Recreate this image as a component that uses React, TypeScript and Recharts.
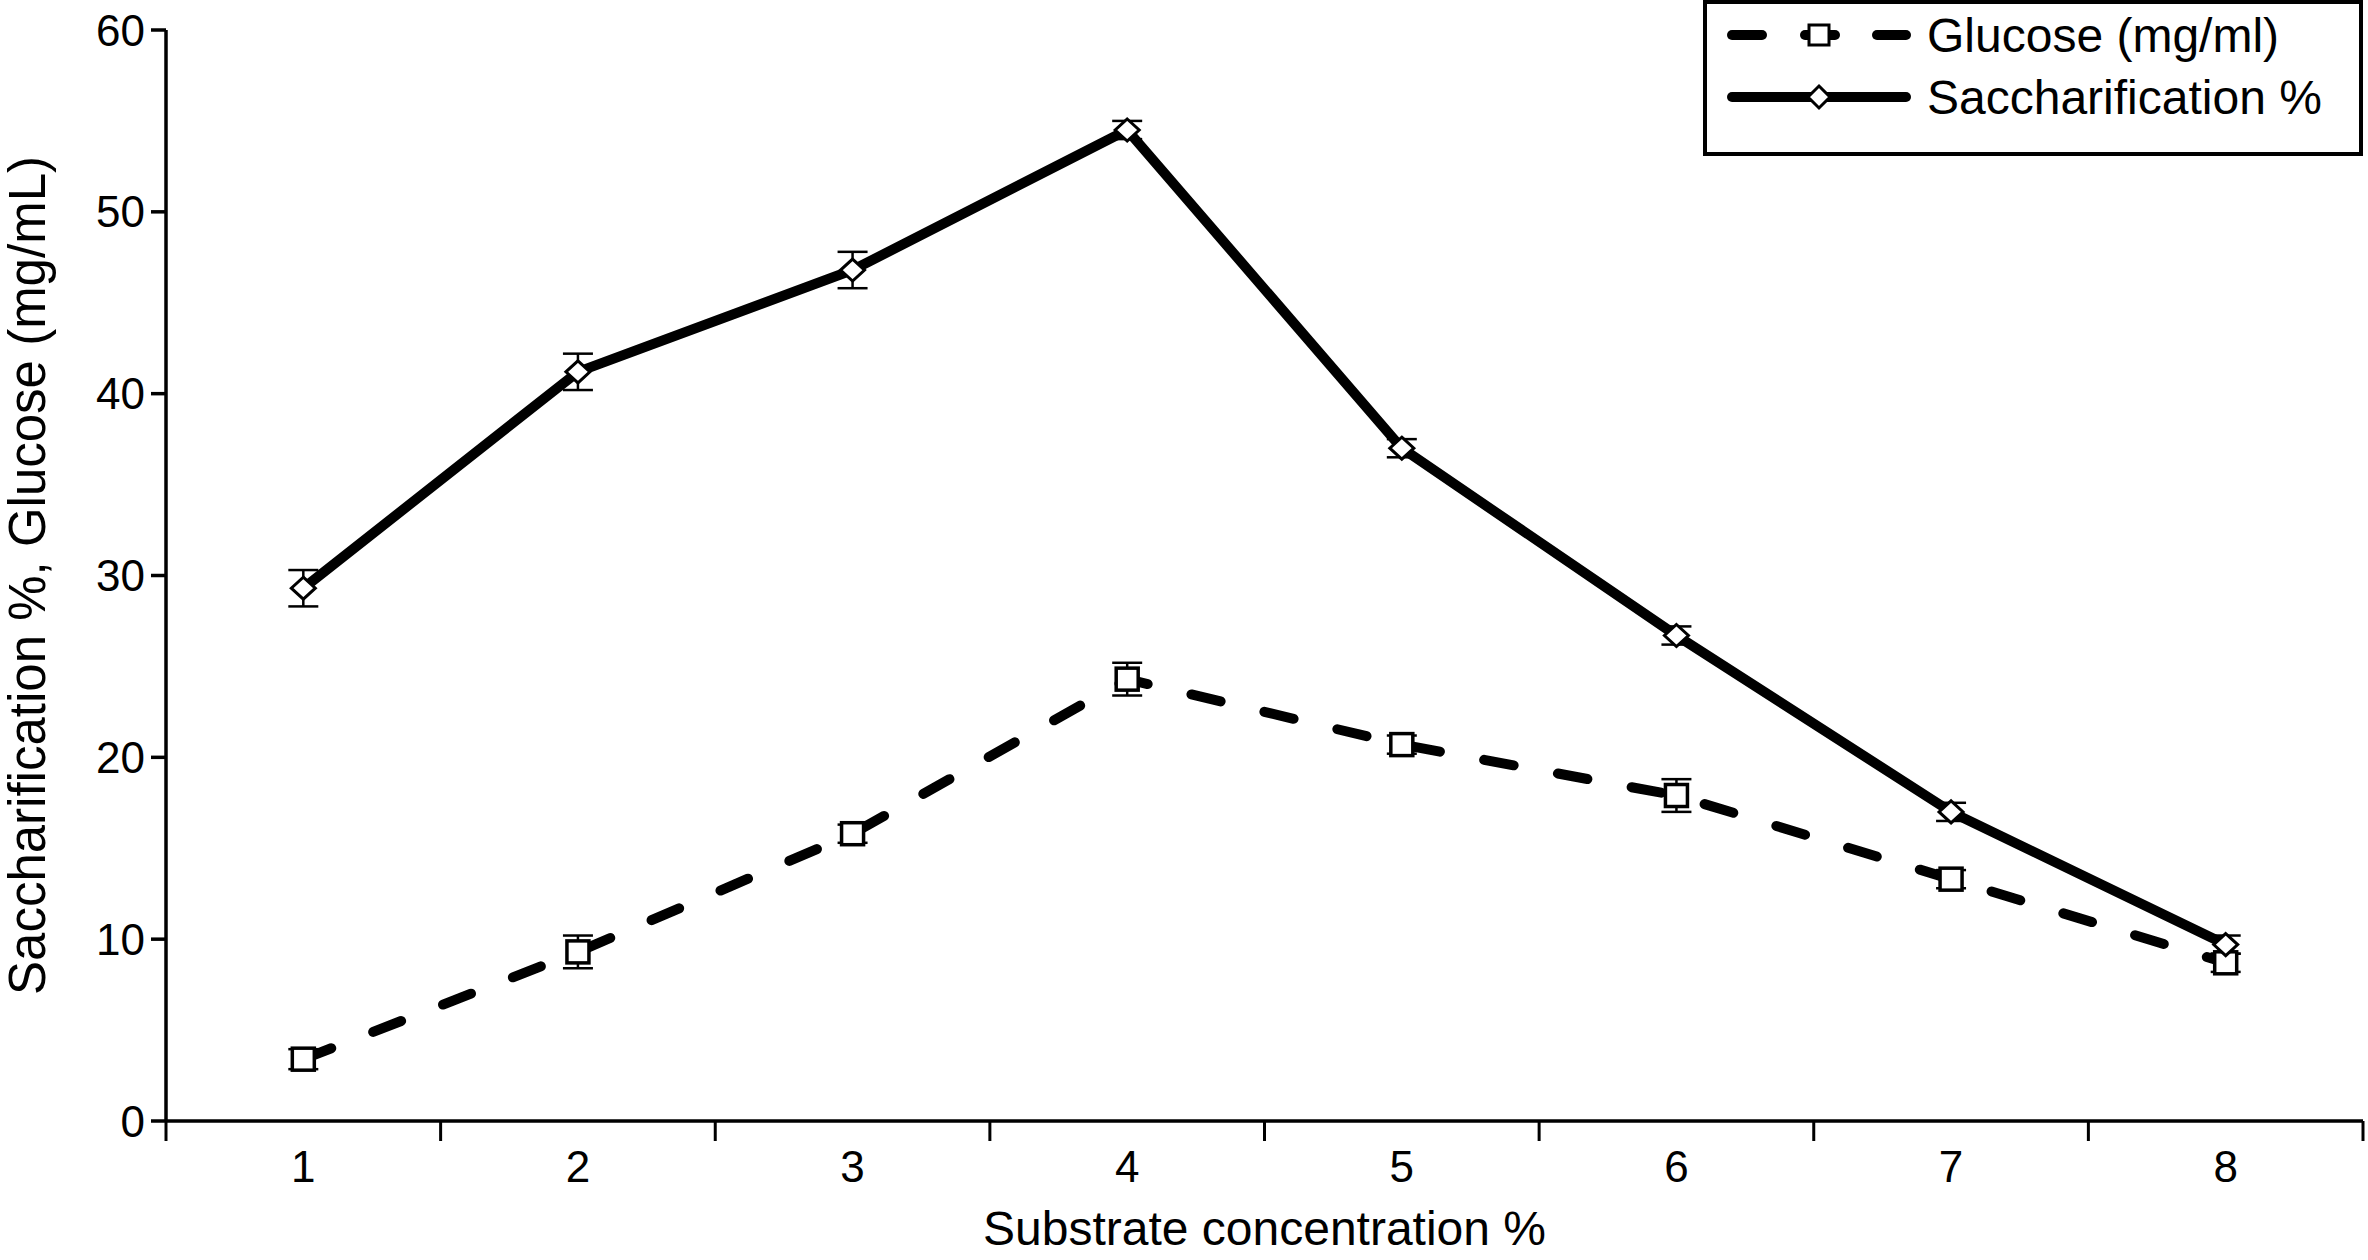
import React from 'react'
import { LineChart, Line, XAxis, YAxis, ErrorBar, Legend } from 'recharts'

const concentrations = [1, 2, 3, 4, 5, 6, 7, 8]
const glucose = [3.4, 9.3, 15.8, 24.3, 20.7, 17.9, 13.3, 8.7]
const glucoseErr = [0.55, 0.9, 0.5, 0.9, 0.5, 0.9, 0.5, 0.5]
const saccharification = [29.3, 41.2, 46.8, 54.5, 37.0, 26.7, 17.0, 9.7]
const saccharificationErr = [1.0, 1.0, 1.0, 0.5, 0.5, 0.5, 0.5, 0.5]
const yTicks = [0, 10, 20, 30, 40, 50, 60]
const xEdges = [0.5, 1.5, 2.5, 3.5, 4.5, 5.5, 6.5, 7.5, 8.5]

const data = concentrations.map((x, i) => ({
  x,
  glucose: glucose[i],
  glucoseErr: glucoseErr[i],
  sacc: saccharification[i],
  saccErr: saccharificationErr[i],
}))

const FONT = '"Liberation Sans", Arial, Helvetica, sans-serif'
const INK = '#000'

function SquareDot(props: any) {
  const { cx, cy, index } = props
  if (cx == null || cy == null) return <g key={`sq-${index}`} />
  return (
    <rect key={`sq-${index}`} x={cx - 11} y={cy - 11} width={22} height={22}
      fill="#fff" stroke={INK} strokeWidth={3.5} />
  )
}

function DiamondDot(props: any) {
  const { cx, cy, index } = props
  if (cx == null || cy == null) return <g key={`dm-${index}`} />
  const w = 12, h = 11
  return (
    <polygon key={`dm-${index}`}
      points={`${cx},${cy - h} ${cx + w},${cy} ${cx},${cy + h} ${cx - w},${cy}`}
      fill="#fff" stroke={INK} strokeWidth={3} />
  )
}

// boundary ticks at the half values, labels at the whole ones
function XTick(props: any) {
  const { x, y, payload } = props
  const v = payload.value
  if (!Number.isInteger(v)) {
    return <line x1={x} x2={x} y1={y} y2={y + 20} stroke={INK} strokeWidth={3} />
  }
  return (
    <text x={x} y={y + 61} textAnchor="middle" fontSize={44} fill={INK} fontFamily={FONT}>
      {v}
    </text>
  )
}

function LegendBox() {
  return (
    <svg width={660} height={156} style={{ display: 'block' }}>
      <rect x={2} y={2} width={656} height={152} fill="#fff" stroke={INK} strokeWidth={4} />
      {/* glucose */}
      <g stroke={INK} strokeWidth={10} strokeLinecap="round">
        <line x1={29} x2={59} y1={35} y2={35} />
        <line x1={102} x2={132} y1={35} y2={35} />
        <line x1={174} x2={203} y1={35} y2={35} />
      </g>
      <rect x={106} y={25} width={20} height={20} fill="#fff" stroke={INK} strokeWidth={3} />
      <text x={224} y={35} dy="0.36em" fontSize={48} fontFamily={FONT} fill={INK}>
        Glucose (mg/ml)
      </text>
      {/* saccharification */}
      <line x1={29} x2={203} y1={97} y2={97} stroke={INK} strokeWidth={10} strokeLinecap="round" />
      <polygon points="116,86 127,97 116,108 105,97" fill="#fff" stroke={INK} strokeWidth={3} />
      <text x={224} y={97} dy="0.36em" fontSize={48} fontFamily={FONT} fill={INK}>
        Saccharification %
      </text>
    </svg>
  )
}

export default function App() {
  return (
    <div style={{ position: 'absolute', left: 0, top: 0, width: 2368, height: 1260, background: '#fff', fontFamily: FONT }}>
      <LineChart width={2368} height={1260} data={data}
        margin={{ top: 30, right: 5, bottom: 0, left: 0 }}>
        <XAxis
          dataKey="x"
          type="number"
          domain={[0.5, 8.5]}
          ticks={[...xEdges, ...concentrations].sort((a, b) => a - b)}
          interval={0}
          height={139}
          tickSize={0}
          tickMargin={0}
          tickLine={false}
          tick={XTick}
          axisLine={{ stroke: INK, strokeWidth: 3.5 }}
          label={{
            value: 'Substrate concentration %',
            position: 'insideBottom',
            offset: 15,
            fontSize: 48,
            fill: INK,
            fontFamily: FONT,
          }}
        />
        <YAxis
          domain={[0, 60]}
          ticks={yTicks}
          width={166}
          tickSize={15}
          tickMargin={6}
          tickLine={{ stroke: INK, strokeWidth: 3.5 }}
          axisLine={{ stroke: INK, strokeWidth: 3.5 }}
          tick={{ fontSize: 44, fill: INK, fontFamily: FONT }}
          label={{
            value: 'Saccharification %, Glucose (mg/mL)',
            angle: -90,
            position: 'insideLeft',
            offset: 27,
            fontSize: 51,
            fill: INK,
            fontFamily: FONT,
            style: { textAnchor: 'middle' },
          }}
        />
        <Legend layout="vertical" align="center" verticalAlign="middle"
          content={LegendBox}
          wrapperStyle={{ top: 0, left: 1703, width: 660, height: 156 }} />
        <Line
          dataKey="glucose"
          name="Glucose (mg/ml)"
          stroke={INK}
          strokeWidth={10}
          strokeDasharray="30 45"
          strokeLinecap="round"
          dot={SquareDot}
          activeDot={false}
          isAnimationActive={false}
        >
          <ErrorBar dataKey="glucoseErr" width={15} stroke={INK} strokeWidth={2.5} direction="y" />
        </Line>
        <Line
          dataKey="sacc"
          name="Saccharification %"
          stroke={INK}
          strokeWidth={10}
          strokeLinejoin="round"
          dot={DiamondDot}
          activeDot={false}
          isAnimationActive={false}
        >
          <ErrorBar dataKey="saccErr" width={15} stroke={INK} strokeWidth={2.5} direction="y" />
        </Line>
      </LineChart>
    </div>
  )
}
